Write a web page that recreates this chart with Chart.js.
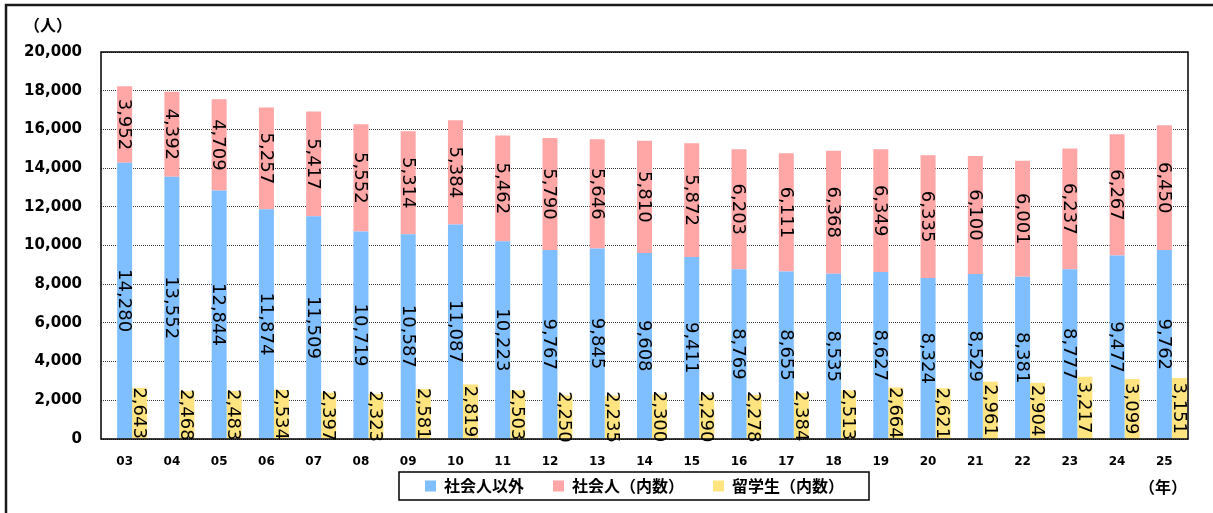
<!DOCTYPE html>
<html lang="ja">
<head>
<meta charset="utf-8">
<title>社会人・留学生の推移</title>
<script src="https://cdn.jsdelivr.net/npm/chart.js@4.4.1/dist/chart.umd.min.js"></script>
<style>
  html, body { margin: 0; padding: 0; background: #ffffff; }
  #wrap { position: relative; width: 1213px; height: 513px; }
  canvas { display: block; }
</style>
</head>
<body>
<div id="wrap"><canvas id="chart" width="1213" height="513"></canvas></div>
<script>
// 年（西暦下2桁）
const years = ['03','04','05','06','07','08','09','10','11','12','13','14','15','16','17','18','19','20','21','22','23','24','25'];

// 社会人以外
const nonWorking = [14280, 13552, 12844, 11874, 11509, 10719, 10587, 11087, 10223, 9767, 9845, 9608,
                    9411, 8769, 8655, 8535, 8627, 8324, 8529, 8381, 8777, 9477, 9762];
// 社会人（内数）
const working = [3952, 4392, 4709, 5257, 5417, 5552, 5314, 5384, 5462, 5790, 5646, 5810,
                 5872, 6203, 6111, 6368, 6349, 6335, 6100, 6001, 6237, 6267, 6450];
// 留学生（内数）
const intlStudents = [2643, 2468, 2483, 2534, 2397, 2323, 2581, 2819, 2503, 2250, 2235, 2300,
                      2290, 2278, 2384, 2513, 2664, 2621, 2961, 2904, 3217, 3099, 3151];

// 縦軸の目盛
const yTicks = [0, 2000, 4000, 6000, 8000, 10000, 12000, 14000, 16000, 18000, 20000];

const seriesNames = ['社会人以外', '社会人（内数）', '留学生（内数）'];
const unitLabel = '（人）';
const yearLabel = '（年）';

const COLORS = { blue: '#80BFFF', pink: '#FFA6A6', yellow: '#FFE480' };
const CJK = '"Noto Sans CJK JP", "Noto Sans", sans-serif';
const LATIN = '"DejaVu Sans", Verdana, sans-serif';

const fmt = v => v.toLocaleString('en-US');

// empty slot on the left of each category so the stacked bar sits on the tick
const emptySlot = years.map(() => 0);

// outer frame, plot frame, unit captions and rotated value labels
const decorations = {
  id: 'decorations',
  afterLayout(chart) {
    // legend sits just under the year labels, slightly left of the plot centre
    const lg = chart.legend;
    const h = lg.bottom - lg.top;
    lg.left -= 10;
    lg.right -= 10;
    lg.top = chart.chartArea.bottom + 10;
    lg.bottom = lg.top + 60;
    lg.height = 60;
  },
  beforeDraw(chart) {
    const ctx = chart.ctx;
    ctx.save();
    ctx.strokeStyle = '#1a1a1a';
    ctx.lineWidth = 2.5;
    ctx.beginPath();
    ctx.moveTo(6, 513);
    ctx.lineTo(6, 5);
    ctx.lineTo(1213, 5);
    ctx.stroke();
    ctx.restore();
  },
  afterDatasetsDraw(chart) {
    const ctx = chart.ctx;
    ctx.save();
    ctx.fillStyle = '#000';
    ctx.font = '18px ' + LATIN;
    ctx.textAlign = 'center';
    ctx.textBaseline = 'middle';
    [1, 2, 3].forEach(di => {
      const meta = chart.getDatasetMeta(di);
      const vals = chart.data.datasets[di].data;
      meta.data.forEach((bar, j) => {
        const p = bar.getProps(['x', 'y', 'base'], true);
        ctx.save();
        ctx.translate(p.x, (p.y + p.base) / 2);
        ctx.rotate(Math.PI / 2);
        ctx.fillText(fmt(vals[j]), 0, 1);
        ctx.restore();
      });
    });
    ctx.restore();
  },
  afterDraw(chart) {
    const ctx = chart.ctx;
    const a = chart.chartArea;
    ctx.save();
    // plot frame
    ctx.strokeStyle = '#000';
    ctx.lineWidth = 1.5;
    ctx.strokeRect(a.left, a.top, a.right - a.left, a.bottom - a.top);

    // legend frame
    const hb = chart.legend.legendHitBoxes;
    if (hb && hb.length) {
      const first = hb[0], last = hb[hb.length - 1];
      const l = first.left - 26, r = last.left + last.width + 25;
      const t = first.top - 6, b = first.top + first.height + 6;
      ctx.lineWidth = 1.5;
      ctx.strokeRect(l, t, r - l, b - t);
    }

    // captions
    ctx.fillStyle = '#000';
    ctx.font = 'bold 16px ' + CJK;
    ctx.textAlign = 'center';
    ctx.textBaseline = 'middle';
    ctx.fillText(unitLabel, 48, 25);
    ctx.fillText(yearLabel, 1163, 487);
    ctx.restore();
  }
};

new Chart(document.getElementById('chart'), {
  type: 'bar',
  data: {
    labels: years,
    datasets: [
      { data: emptySlot, stack: 'pad', backgroundColor: 'rgba(0,0,0,0)', barPercentage: 1.0, categoryPercentage: 0.952 },
      { label: seriesNames[0], data: nonWorking, stack: 'main', backgroundColor: COLORS.blue, barPercentage: 1.0, categoryPercentage: 0.952 },
      { label: seriesNames[1], data: working, stack: 'main', backgroundColor: COLORS.pink, barPercentage: 1.0, categoryPercentage: 0.952 },
      { label: seriesNames[2], data: intlStudents, stack: 'intl', backgroundColor: COLORS.yellow, barPercentage: 1.0, categoryPercentage: 0.952 }
    ]
  },
  options: {
    responsive: false,
    animation: false,
    events: [],
    layout: { padding: { left: 0, right: 25, top: 52, bottom: 0 } },
    scales: {
      x: {
        stacked: true,
        grid: { display: false, drawTicks: false },
        border: { display: false },
        ticks: {
          padding: 16,
          color: '#000',
          font: { family: LATIN, size: 12, weight: 'bold' },
          maxRotation: 0,
          autoSkip: false
        },
        afterFit(scale) { scale.height = 34; }
      },
      y: {
        stacked: true,
        min: yTicks[0],
        max: yTicks[yTicks.length - 1],
        afterBuildTicks(scale) { scale.ticks = yTicks.map(v => ({ value: v })); },
        grid: { color: '#3a3a3a', lineWidth: 1, drawTicks: false },
        border: { display: false, dash: [1, 1] },
        ticks: {
          padding: 19,
          color: '#000',
          font: { family: LATIN, size: 15, weight: 'bold' },
          callback: v => fmt(v)
        },
        afterFit(scale) { scale.width = 101; }
      }
    },
    plugins: {
      tooltip: { enabled: false },
      title: { display: false },
      legend: {
        position: 'bottom',
        fullSize: false,
        maxHeight: 40,
        labels: {
          filter: item => item.datasetIndex !== 0,
          boxWidth: 11,
          boxHeight: 11,
          padding: 29,
          color: '#000',
          font: { family: CJK, size: 16, weight: 'bold' }
        }
      }
    }
  },
  plugins: [decorations]
});
</script>
</body>
</html>
